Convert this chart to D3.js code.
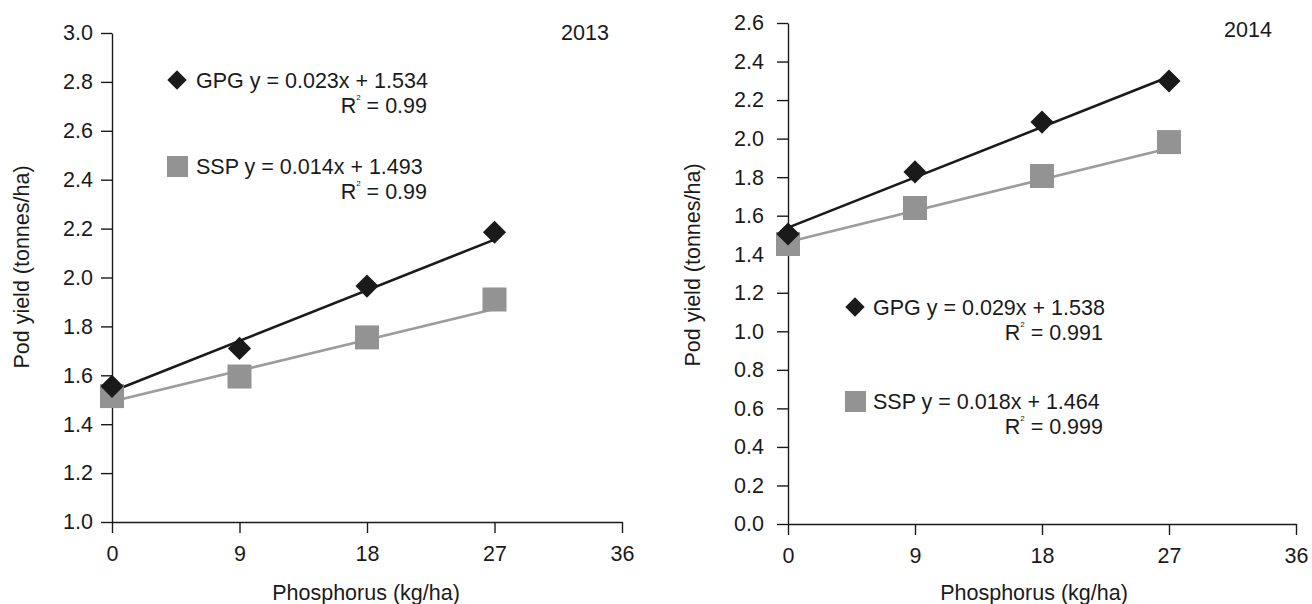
<!DOCTYPE html>
<html>
<head>
<meta charset="utf-8">
<script src="https://cdn.jsdelivr.net/npm/d3@7"></script>
<style>
  body { margin: 0; background: #fff; }
  svg text { font-family: "Liberation Sans", Arial, sans-serif; fill: #1a1a1a; }
</style>
</head>
<body>
<main></main>
<script>
// data
const phosphorus = [0, 9, 18, 27];
const xTicks = [0, 9, 18, 27, 36];

const gpg2013 = [1.555, 1.71, 1.965, 2.185];
const ssp2013 = [1.515, 1.595, 1.755, 1.91];
const gpg2014 = [1.505, 1.827, 2.086, 2.299];
const ssp2014 = [1.453, 1.64, 1.806, 1.982];

// [slope, intercept, R2 label]
const gpgFit2013 = [0.023, 1.534, "0.99"];
const sspFit2013 = [0.014, 1.493, "0.99"];
const gpgFit2014 = [0.029, 1.538, "0.991"];
const sspFit2014 = [0.018, 1.464, "0.999"];

const yTicks2013 = [1.0, 1.2, 1.4, 1.6, 1.8, 2.0, 2.2, 2.4, 2.6, 2.8, 3.0];
const yTicks2014 = [0.0, 0.2, 0.4, 0.6, 0.8, 1.0, 1.2, 1.4, 1.6, 1.8, 2.0, 2.2, 2.4, 2.6];

const years = ["2013", "2014"];

var svg = d3.select("main")
  .append("svg")
  .attr("width", 1312)
  .attr("height", 604);

const black = "#1a1a1a";
const grey = "#939393";
const greyLine = "#9c9c9c";
const fs = 21.5;

const panels = [
  {
    year: years[0], gpg: gpg2013, ssp: ssp2013, gpgFit: gpgFit2013, sspFit: sspFit2013,
    yTicks: yTicks2013, x0: 112, x1: 622, yTop: 33, yBot: 522, labelPad: 8,
    yearX: 585, yearY: 40, titleX: 366, ytitleX: 29, ytitleY: 267,
    leg: { mx: 177, tx: 196, rx: 427, y1: 88, y2: 174, r1: 113, r2: 199 }
  },
  {
    year: years[1], gpg: gpg2014, ssp: ssp2014, gpgFit: gpgFit2014, sspFit: sspFit2014,
    yTicks: yTicks2014, x0: 788, x1: 1296, yTop: 23, yBot: 524, labelPad: 13,
    yearX: 1248, yearY: 37, titleX: 1034, ytitleX: 700, ytitleY: 265,
    leg: { mx: 855, tx: 873, rx: 1103, y1: 315, y2: 409, r1: 340, r2: 434 }
  }
];

panels.forEach(p => drawPanel(p));

function drawPanel(p) {
  const yExtent = d3.extent(p.yTicks);
  const xScale = d3.scaleLinear().domain([0, 36]).range([p.x0, p.x1]);
  const yScale = d3.scaleLinear().domain(yExtent).range([p.yBot, p.yTop]);

  var x_axis = d3.axisBottom(xScale)
    .tickValues(xTicks)
    .tickSize(11)
    .tickSizeOuter(0)
    .tickPadding(13)
    .tickFormat(d3.format("d"));

  var y_axis = d3.axisLeft(yScale)
    .tickValues(p.yTicks)
    .tickSize(11)
    .tickSizeOuter(0)
    .tickPadding(p.labelPad)
    .tickFormat(d3.format(".1f"));

  const gx = svg.append("g")
    .attr("transform", "translate(0," + p.yBot + ")")
    .call(x_axis);
  const gy = svg.append("g")
    .attr("transform", "translate(" + p.x0 + ",0)")
    .call(y_axis);

  [gx, gy].forEach(g => {
    g.selectAll("path, line").attr("stroke", black).attr("stroke-width", 1.4);
    g.selectAll("text").attr("font-size", fs).attr("fill", black)
      .style("font-family", "'Liberation Sans', Arial, sans-serif");
  });

  // axis titles
  svg.append("text")
    .attr("x", p.titleX).attr("y", 600)
    .attr("text-anchor", "middle").attr("font-size", fs)
    .text("Phosphorus (kg/ha)");

  svg.append("text")
    .attr("transform", "translate(" + p.ytitleX + "," + p.ytitleY + ") rotate(-90)")
    .attr("text-anchor", "middle").attr("font-size", fs)
    .text("Pod yield (tonnes/ha)");

  svg.append("text")
    .attr("x", p.yearX).attr("y", p.yearY)
    .attr("text-anchor", "middle").attr("font-size", fs)
    .text(p.year);

  // fitted lines, drawn over the measured range
  const fitLine = d3.line()
    .x(d => xScale(d[0]))
    .y(d => yScale(d[1]));

  const span = d3.extent(phosphorus);
  svg.append("path")
    .datum(span.map(x => [x, p.sspFit[1] + p.sspFit[0] * x]))
    .attr("d", fitLine)
    .attr("fill", "none")
    .attr("stroke", greyLine)
    .attr("stroke-width", 2.6);

  svg.append("path")
    .datum(span.map(x => [x, p.gpgFit[1] + p.gpgFit[0] * x]))
    .attr("d", fitLine)
    .attr("fill", "none")
    .attr("stroke", black)
    .attr("stroke-width", 2.6);

  const square = d3.symbol().type(d3.symbolSquare).size(24 * 24);
  const diamond = d3.symbol().type(d3.symbolDiamond2).size(18.5 * 18.5);

  svg.append("g").selectAll("path")
    .data(p.ssp)
    .enter()
    .append("path")
    .attr("d", square)
    .attr("fill", grey)
    .attr("transform", (d, i) => "translate(" + xScale(phosphorus[i]) + "," + yScale(d) + ")");

  svg.append("g").selectAll("path")
    .data(p.gpg)
    .enter()
    .append("path")
    .attr("d", diamond)
    .attr("fill", black)
    .attr("transform", (d, i) => "translate(" + xScale(phosphorus[i]) + "," + yScale(d) + ")");

  // legend with equations
  const L = p.leg;
  svg.append("path")
    .attr("d", d3.symbol().type(d3.symbolDiamond2).size(15.5 * 15.5))
    .attr("fill", black)
    .attr("transform", "translate(" + L.mx + "," + (L.y1 - 8) + ")");
  svg.append("rect")
    .attr("x", L.mx - 10).attr("y", L.y2 - 18)
    .attr("width", 21).attr("height", 21)
    .attr("fill", grey);

  const eq = (fit, name) => name + " y = " + fit[0].toFixed(3) + "x + " + fit[1].toFixed(3);

  svg.append("text").attr("x", L.tx).attr("y", L.y1).attr("font-size", fs)
    .text(eq(p.gpgFit, "GPG"));
  svg.append("text").attr("x", L.tx).attr("y", L.y2).attr("font-size", fs)
    .text(eq(p.sspFit, "SSP"));

  [[p.gpgFit, L.r1], [p.sspFit, L.r2]].forEach(([fit, y]) => {
    const t = svg.append("text").attr("x", L.rx).attr("y", y)
      .attr("text-anchor", "end").attr("font-size", fs);
    t.append("tspan").text("R");
    t.append("tspan").attr("font-size", 8).attr("dy", -13).text("2");
    t.append("tspan").attr("dy", 13).text(" = " + fit[2]);
  });
}
</script>
</body>
</html>
